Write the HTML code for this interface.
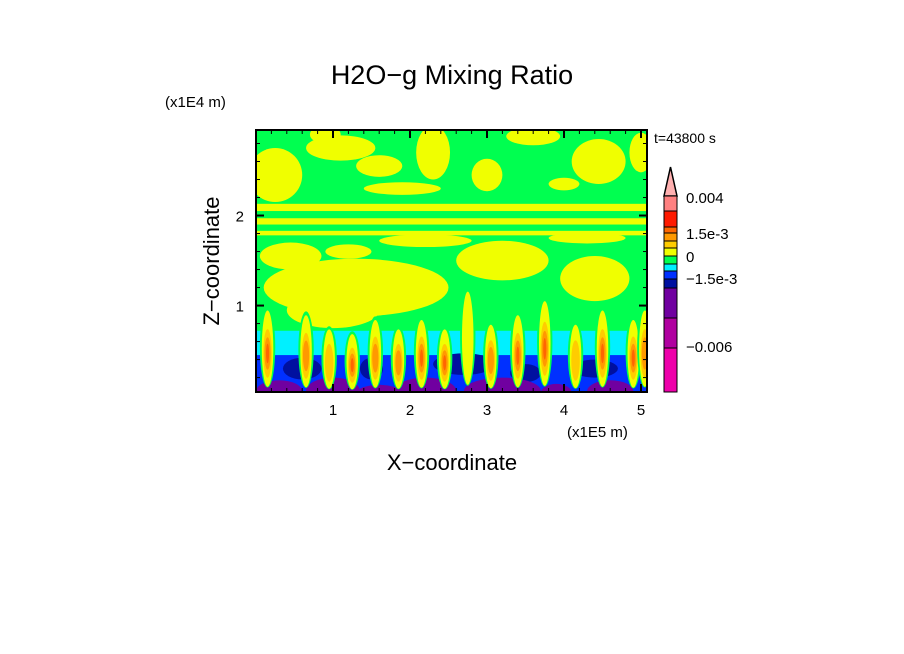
<!DOCTYPE html>
<html><head><meta charset="utf-8"><style>
html,body{margin:0;padding:0;background:#fff;}
svg{display:block;font-family:"Liberation Sans",sans-serif;}
</style></head><body>
<svg id="chart" width="904" height="654" viewBox="0 0 904 654">
<defs><clipPath id="pc"><rect x="256" y="130" width="391" height="262"/></clipPath></defs>
<text x="452" y="84" font-size="27" text-anchor="middle">H2O−g Mixing Ratio</text>
<text x="165" y="107" font-size="15">(x1E4 m)</text>
<text x="654" y="143" font-size="14">t=43800 s</text>
<text x="567" y="437" font-size="15">(x1E5 m)</text>
<text x="452" y="470" font-size="22" text-anchor="middle">X−coordinate</text>
<text transform="translate(219,261) rotate(-90)" font-size="22" text-anchor="middle">Z−coordinate</text>
<g id="field" clip-path="url(#pc)"></g>
<g id="axes"></g>
<g id="cbar"></g>
</svg>
<script>
const xTicks=[1,2,3,4,5];
const yTicks=[1,2];
const cbLabels=["0.004","1.5e-3","0","−1.5e-3","−0.006"];
const cbColors=["#ff8080","#ff1a00","#ff6600","#ff9900","#ffcc00","#f0ff00","#00ff50","#00f0ff","#0030ff","#0010a0","#7000a0","#b000a0","#ee00aa"];
const cbHeights=[15,16,6,8,7,8,8,7,8,9,30,30,44];
// blobs: [x(1e5 m), z(1e4 m), rx, rz]
const yellowBlobs=[[0.25,2.45,0.35,0.3],[1.1,2.75,0.45,0.14],[1.6,2.55,0.3,0.12],[2.3,2.7,0.22,0.3],[3.6,2.88,0.35,0.1],[4.45,2.6,0.35,0.25],[5.0,2.7,0.15,0.22],[1.9,2.3,0.5,0.07],[3.0,2.45,0.2,0.18],[4.0,2.35,0.2,0.07],[0.9,2.9,0.2,0.1],
[1.3,1.2,1.2,0.32],[3.2,1.5,0.6,0.22],[4.4,1.3,0.45,0.25],[0.45,1.55,0.4,0.15],[2.2,1.72,0.6,0.07],[4.3,1.75,0.5,0.06],[1.0,0.95,0.6,0.2],[1.2,1.6,0.3,0.08]];
const yellowBands=[[2.05,2.13],[1.9,1.97],[1.78,1.83]];
const plumes=[[0.15,0.9,4],[0.65,0.85,3],[0.95,0.7,2],[1.25,0.65,4],[1.55,0.8,3],[1.85,0.7,3],[2.15,0.8,4],[2.45,0.7,4],[2.75,1.1,1],[3.05,0.75,3],[3.4,0.85,4],[3.75,1.0,4],[4.15,0.75,2],[4.5,0.9,4],[4.9,0.8,4],[5.05,0.9,3]];
const purpleBlobs=[[0.3,0.05,0.3,0.12],[1.0,0.05,0.35,0.15],[1.6,0.02,0.3,0.1],[2.2,0.05,0.4,0.15],[3.2,0.05,0.5,0.15],[3.9,0.03,0.2,0.1],[4.6,0.05,0.3,0.12]];
const darkBlue=[[0.6,0.3,0.25,0.12],[1.5,0.3,0.15,0.12],[2.7,0.35,0.4,0.12],[3.5,0.25,0.2,0.1],[4.4,0.3,0.3,0.1]];

const X0=0,X1=5.078,Z0=0.04,Z1=2.95;
const PX0=256,PX1=647,PY0=392,PY1=130;
const sx=v=>PX0+(v-X0)/(X1-X0)*(PX1-PX0);
const sy=v=>PY0-(v-Z0)/(Z1-Z0)*(PY0-PY1);
const NS="http://www.w3.org/2000/svg";
const field=document.getElementById('field');
function mk(tag,attrs,parent){const e=document.createElementNS(NS,tag);for(const k in attrs)e.setAttribute(k,attrs[k]);parent.appendChild(e);return e;}
function ell(b,col,name){const e=mk('ellipse',{cx:sx(b[0]),cy:sy(b[1]),rx:b[2]/(X1-X0)*(PX1-PX0),ry:b[3]/(Z1-Z0)*(PY0-PY1),fill:col},field);

}
function rectZ(z0,z1,col,name){const e=mk('rect',{x:PX0,y:sy(z1),width:PX1-PX0,height:sy(z0)-sy(z1),fill:col},field);

}
rectZ(Z0,Z1,"#00ff50","field-background");
yellowBlobs.forEach(b=>ell(b,"#f0ff00","yellow-region"));
yellowBands.forEach(b=>rectZ(b[0],b[1],"#f0ff00","yellow-band"));
rectZ(0.4,0.72,"#00f0ff","cyan-layer");
rectZ(Z0,0.45,"#0030ff","blue-layer");
darkBlue.forEach(b=>ell(b,"#0010a0","dark-blue-region"));
purpleBlobs.forEach(b=>ell(b,"#7000a0","purple-region"));
plumes.forEach(p=>{
  ell([p[0],p[1]*0.6,0.1,p[1]*0.5],"#00ff50","plume-edge");
  ell([p[0],p[1]*0.58,0.075,p[1]*0.47],"#f0ff00","plume");
  if(p[2]>=2) ell([p[0],p[1]*0.52,0.055,p[1]*0.3],"#ffcc00","plume-core");
  if(p[2]>=3) ell([p[0],p[1]*0.52,0.04,p[1]*0.2],"#ff9900","plume-core");
  if(p[2]>=4) ell([p[0],p[1]*0.52,0.02,p[1]*0.12],"#ff6600","plume-core");
});
const ax=document.getElementById('axes');
const frame=mk('rect',{x:PX0,y:PY1,width:PX1-PX0,height:PY0-PY1,fill:"none",stroke:"#000","stroke-width":2},ax);


for(let v=0.2;v<X1;v+=0.2){const big=Math.abs(v-Math.round(v))<0.01,L=big?8:4;
 mk('line',{x1:sx(v),x2:sx(v),y1:PY0,y2:PY0-L,stroke:"#000","stroke-width":big?2:1},ax);
 mk('line',{x1:sx(v),x2:sx(v),y1:PY1,y2:PY1+L,stroke:"#000","stroke-width":big?2:1},ax);}
for(let v=0.2;v<Z1;v+=0.2){const big=Math.abs(v-Math.round(v))<0.01,L=big?8:4;
 mk('line',{x1:PX0,x2:PX0+L,y1:sy(v),y2:sy(v),stroke:"#000","stroke-width":big?2:1},ax);
 mk('line',{x1:PX1,x2:PX1-L,y1:sy(v),y2:sy(v),stroke:"#000","stroke-width":big?2:1},ax);}
xTicks.forEach(t=>{const e=mk('text',{x:sx(t),y:415,"font-size":15,"text-anchor":"middle"},ax);e.textContent=t;

});
yTicks.forEach(t=>{const e=mk('text',{x:244,y:sy(t)+6,"font-size":15,"text-anchor":"end"},ax);e.textContent=t;

});
const cb=document.getElementById('cbar');
let y=196;const cx0=664,cw=13;
const tri=mk('polygon',{points:`${cx0},${y} ${cx0+cw},${y} ${cx0+cw/2},167`,fill:"#ffb0b0",stroke:"#000","stroke-width":1.5},cb);


cbColors.forEach((c,i)=>{const r=mk('rect',{x:cx0,y:y,width:cw,height:cbHeights[i],fill:c,stroke:"#000","stroke-width":1},cb);


y+=cbHeights[i];});
const cbTxtY=[203,239,262,284,352];
cbLabels.forEach((l,i)=>{const e=mk('text',{x:686,y:cbTxtY[i],"font-size":15},cb);e.textContent=l;

});
</script>
</body></html>
